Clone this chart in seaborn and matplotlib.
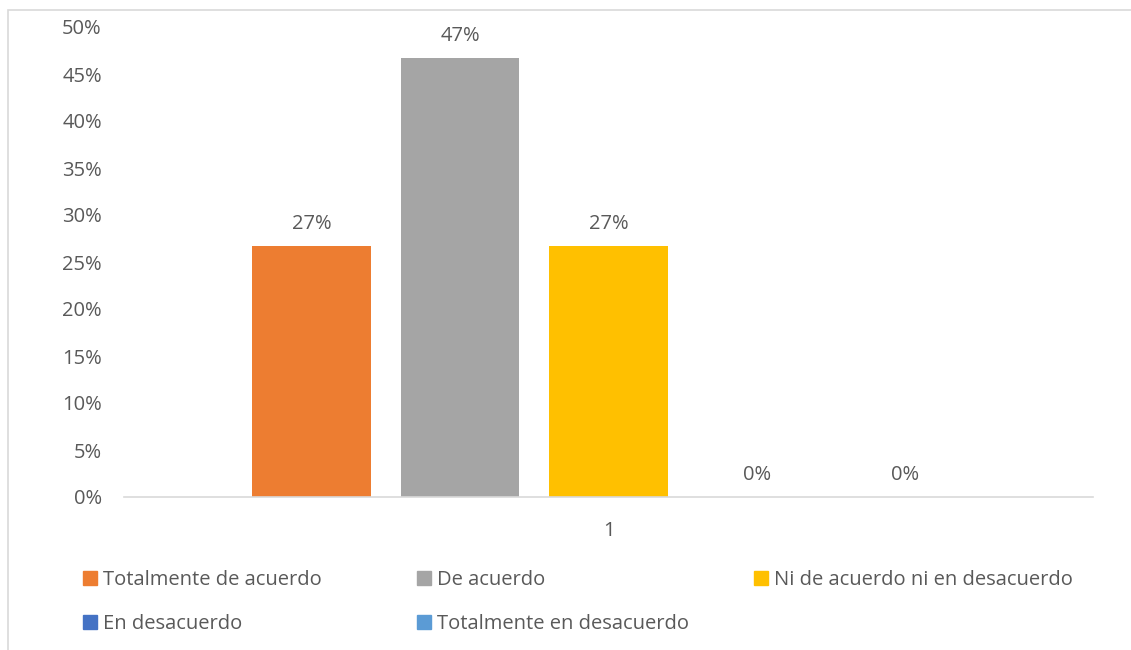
import matplotlib
matplotlib.use("Agg")
import matplotlib.pyplot as plt
import matplotlib.patches as mpatches
import pandas as pd
import seaborn as sns

categoria = ["1"]
series = ["Totalmente de acuerdo", "De acuerdo", "Ni de acuerdo ni en desacuerdo",
          "En desacuerdo", "Totalmente en desacuerdo"]
valores = [26.7, 46.7, 26.7, 0.0, 0.0]
colores = ["#ED7D31", "#A5A5A5", "#FFC000", "#4472C4", "#5B9BD5"]
yticks = [0, 5, 10, 15, 20, 25, 30, 35, 40, 45, 50]

df = pd.DataFrame({"cat": categoria * len(series), "serie": series, "valor": valores})

sns.set_theme(style="white")
plt.rcParams["font.family"] = ["Open Sans", "DejaVu Sans"]
texto = "#595959"
fs = 14.5

W, H = 1131, 650
fig = plt.figure(figsize=(W / 100, H / 100), dpi=100)
ax = fig.add_axes([124 / W, 1 - 497 / H, (1093 - 124) / W, (497 - 27) / H])

sns.barplot(data=df, x="cat", y="valor", hue="serie", hue_order=series,
            palette=colores, width=0.766, gap=0.2, ax=ax, legend=False,
            errorbar=None, saturation=1, linewidth=0)

for cont in ax.containers:
    ax.bar_label(cont, labels=[f"{v:.0f}%" for v in cont.datavalues],
                 padding=9, fontsize=fs, color=texto)

ax.set_ylim(0, 50)
ax.set_xlim(-0.5, 0.5)
ax.set_yticks(yticks)
ax.set_yticklabels([f"{t}%" for t in yticks])
ax.tick_params(axis="y", labelsize=fs, colors=texto, length=0, pad=16)
ax.tick_params(axis="x", labelsize=fs, colors=texto, length=0, pad=17)
ax.set_xlabel("")
ax.set_ylabel("")
for s in ["top", "right", "left"]:
    ax.spines[s].set_visible(False)
ax.spines["bottom"].set_color("#D9D9D9")
ax.spines["bottom"].set_linewidth(1.2)

# leyenda en tres columnas, como en Excel
handles = [mpatches.Patch(color=c, label=s) for s, c in zip(series, colores)]
columnas = [[0, 3], [1, 4], [2]]
xs = [75, 409, 746]
for col, x in zip(columnas, xs):
    fig.legend(handles=[handles[i] for i in col], loc="upper left",
               bbox_to_anchor=(x / W, 1 - 562 / H), frameon=False,
               fontsize=fs, labelcolor=texto, handlelength=0.7, handleheight=0.7,
               handletextpad=0.3, labelspacing=1.2, borderaxespad=0)

# borde del área del gráfico
fig.add_artist(mpatches.Rectangle((8 / W, -0.1), 1.2, 1.1 - 10 / H,
                                  transform=fig.transFigure, fill=False,
                                  edgecolor="#D9D9D9", linewidth=1.2, clip_on=False))

fig.savefig("out.png", dpi=100)
